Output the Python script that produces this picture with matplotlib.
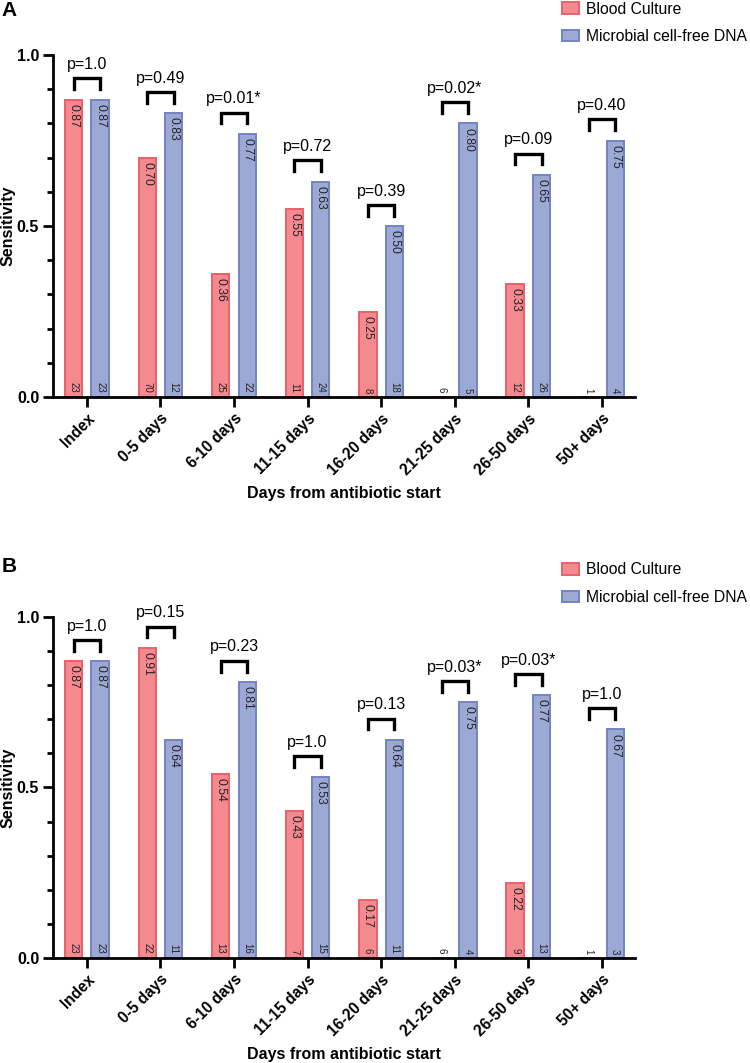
import matplotlib
matplotlib.use("Agg")
import matplotlib.pyplot as plt
import numpy as np
from matplotlib.patches import Patch

plt.rcParams['font.family'] = ['Liberation Sans', 'DejaVu Sans']

categories = ["Index", "0-5 days", "6-10 days", "11-15 days", "16-20 days",
              "21-25 days", "26-50 days", "50+ days"]

# Panel A
a_bc = [0.87, 0.70, 0.36, 0.55, 0.25, 0.0, 0.33, 0.0]
a_mcf = [0.87, 0.83, 0.77, 0.63, 0.50, 0.80, 0.65, 0.75]
a_n_bc = [23, 70, 25, 11, 8, 6, 12, 1]
a_n_mcf = [23, 12, 22, 24, 18, 5, 26, 4]
a_p = ["p=1.0", "p=0.49", "p=0.01*", "p=0.72", "p=0.39", "p=0.02*", "p=0.09", "p=0.40"]

# Panel B
b_bc = [0.87, 0.91, 0.54, 0.43, 0.17, 0.0, 0.22, 0.0]
b_mcf = [0.87, 0.64, 0.81, 0.53, 0.64, 0.75, 0.77, 0.67]
b_n_bc = [23, 22, 13, 7, 6, 6, 9, 1]
b_n_mcf = [23, 11, 16, 15, 11, 4, 13, 3]
b_p = ["p=1.0", "p=0.15", "p=0.23", "p=1.0", "p=0.13", "p=0.03*", "p=0.03*", "p=1.0"]

RED_FACE = "#F4898F"
RED_EDGE = "#E8606A"
BLUE_FACE = "#9DA9D5"
BLUE_EDGE = "#7383C3"

fig = plt.figure(figsize=(7.5, 10.63), dpi=100)


def panel(rect, bc, mcf, n_bc, n_mcf, pvals, letter, letter_y, leg_y):
    ax = fig.add_axes(rect)
    x = np.arange(len(categories))
    off = 0.18
    w = 0.235
    ax.bar(x - off, bc, width=w, color=RED_FACE, edgecolor=RED_EDGE, linewidth=1.4)
    ax.bar(x + off, mcf, width=w, color=BLUE_FACE, edgecolor=BLUE_EDGE, linewidth=1.4)
    for i in range(len(categories)):
        if bc[i] > 0:
            ax.text(x[i] - off, bc[i] - 0.012, f"{bc[i]:.2f}", rotation=-90,
                    ha='center', va='top', fontsize=8.7, color='#222222')
        if mcf[i] > 0:
            ax.text(x[i] + off, mcf[i] - 0.012, f"{mcf[i]:.2f}", rotation=-90,
                    ha='center', va='top', fontsize=8.7, color='#222222')
        ax.text(x[i] - off, 0.012, str(n_bc[i]), rotation=-90, ha='center',
                va='bottom', fontsize=7, color='#222222')
        ax.text(x[i] + off, 0.012, str(n_mcf[i]), rotation=-90, ha='center',
                va='bottom', fontsize=7, color='#222222')
        top = max(bc[i], mcf[i]) + 0.062
        ax.plot([x[i] - off, x[i] - off, x[i] + off, x[i] + off],
                [top - 0.032, top, top, top - 0.032], color='black', lw=2.4,
                clip_on=False, solid_joinstyle='miter')
        ax.text(x[i], top + 0.018, pvals[i], ha='center', va='bottom', fontsize=11.5)

    ax.set_xlim(-0.46, 7.45)
    ax.set_ylim(0, 1.0)
    ax.set_yticks([0, 0.5, 1.0])
    ax.set_yticklabels(["0.0", "0.5", "1.0"], fontweight='bold', fontsize=11.5)
    ax.set_yticks(np.arange(0, 1.01, 0.1), minor=True)
    ax.set_xticks(x)
    ax.set_xticklabels(categories, rotation=45, ha='right', rotation_mode='anchor',
                       fontweight='bold', fontsize=11.2)
    ax.tick_params(axis='both', which='major', length=7, width=2, pad=3)
    ax.tick_params(axis='y', which='minor', length=4.5, width=2)
    ax.tick_params(axis='x', which='minor', length=0)
    for s in ['top', 'right']:
        ax.spines[s].set_visible(False)
    for s in ['left', 'bottom']:
        ax.spines[s].set_linewidth(2)
    ax.set_ylabel("Sensitivity", fontweight='bold', fontsize=11.5)
    ax.yaxis.set_label_coords(-0.064, 0.5)
    ax.set_xlabel("Days from antibiotic start", fontweight='bold', fontsize=11.5, labelpad=6)

    handles = [Patch(facecolor=RED_FACE, edgecolor=RED_EDGE, linewidth=1.4, label="Blood Culture"),
               Patch(facecolor=BLUE_FACE, edgecolor=BLUE_EDGE, linewidth=1.4, label="Microbial cell-free DNA")]
    fig.legend(handles=handles, loc='upper left', bbox_to_anchor=(0.749, leg_y),
               frameon=False, fontsize=11.3, handlelength=1.1, handleheight=0.75,
               handletextpad=0.45, labelspacing=0.8, borderpad=0, borderaxespad=0)
    fig.text(0.002, letter_y, letter, fontweight='bold', fontsize=15, va='top')
    return ax


panel([0.0707, 0.6265, 0.776, 0.3217], a_bc, a_mcf, a_n_bc, a_n_mcf, a_p, "A", 0.999, 0.9985)
panel([0.0707, 0.0988, 0.776, 0.3208], b_bc, b_mcf, b_n_bc, b_n_mcf, b_p, "B", 0.476, 0.471)

fig.savefig("out.png", dpi=100)
